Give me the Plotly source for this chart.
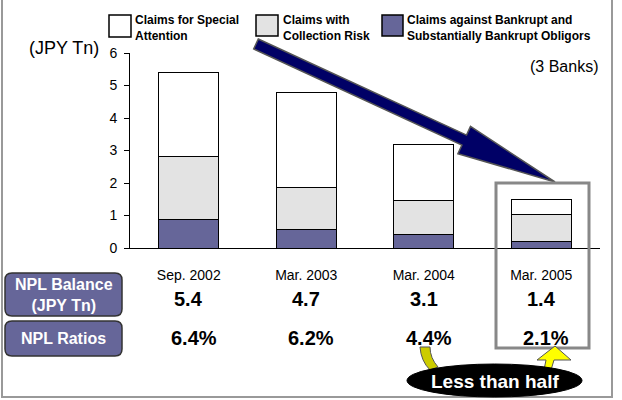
import numpy as np
import plotly.graph_objects as go

# ---------------- data ----------------
categories = ["Sep. 2002", "Mar. 2003", "Mar. 2004", "Mar. 2005"]
bankrupt = [0.89, 0.58, 0.43, 0.19]          # Claims against Bankrupt and Substantially Bankrupt Obligors
collection_risk = [1.94, 1.28, 1.02, 0.85]   # Claims with Collection Risk
special_attention = [2.58, 2.92, 1.75, 0.45] # Claims for Special Attention
npl_balance = [5.4, 4.7, 3.1, 1.4]
npl_ratio = [6.4, 6.2, 4.4, 2.1]
y_ticks = [0, 1, 2, 3, 4, 5, 6]

FONT = "Liberation Sans, Arial, sans-serif"
PURPLE = "#666699"
LGRAY = "#E3E3E3"

W, H = 622, 400
L, R, T, B = 130, 22, 53, 152
PW, PH = W - L - R, H - T - B


def px(x):
    return (x - L) / PW


def py(y):
    return (H - B - y) / PH


def path(points, close=True):
    s = "M " + " L ".join(f"{px(x):.5f},{py(y):.5f}" for x, y in points)
    return s + (" Z" if close else "")


fig = go.Figure()
for name, vals, col in [
    ("Claims against Bankrupt and Substantially Bankrupt Obligors", bankrupt, PURPLE),
    ("Claims with Collection Risk", collection_risk, LGRAY),
    ("Claims for Special Attention", special_attention, "#FFFFFF"),
]:
    fig.add_trace(go.Bar(x=categories, y=vals, name=name, marker=dict(color=col, line=dict(color="black", width=1)),
                         showlegend=False, hoverinfo="skip"))

shapes = []
annotations = []

# outer frame
shapes.append(dict(type="path", xref="paper", yref="paper",
                   path=path([(2, -5), (2, 397), (612, 397), (612, -5)], close=False),
                   line=dict(color="#999999", width=2)))

# legend
legend_items = [
    ((109, 15, 131, 37), "#FFFFFF", "Claims for Special<br>Attention", 133),
    ((256, 15, 278, 36), LGRAY, "Claims with<br>Collection Risk", 281),
    ((382, 15, 403, 36), PURPLE, "Claims against Bankrupt and<br>Substantially Bankrupt Obligors", 405),
]
for (x0, y0, x1, y1), col, txt, tx in legend_items:
    shapes.append(dict(type="rect", xref="paper", yref="paper", x0=px(x0), x1=px(x1), y0=py(y1), y1=py(y0),
                       fillcolor=col, line=dict(color="black", width=1.5)))
    annotations.append(dict(xref="paper", yref="paper", x=px(tx), y=py(27.5), xanchor="left", yanchor="middle",
                            text=f"<b>{txt}</b>", showarrow=False, align="left",
                            font=dict(family=FONT, size=12, color="black")))

# big navy arrow
Tt = np.array([256.0, 44.0])
Tip = np.array([555.0, 182.0])
u = (Tip - Tt) / np.linalg.norm(Tip - Tt)
n = np.array([-u[1], u[0]])
Bc = Tip - 100 * u
sw, hw = 5.5, 15
pts = [Tt - sw * n, Bc - sw * n, Bc - hw * n, Tip, Bc + hw * n, Bc + sw * n, Tt + sw * n]
shapes.append(dict(type="path", xref="paper", yref="paper", path=path([tuple(p) for p in pts]),
                   fillcolor="#000066", line=dict(color="#555555", width=1.5)))

# highlight box
shapes.append(dict(type="rect", xref="paper", yref="paper", x0=px(496), x1=px(589), y0=py(348), y1=py(183),
                   line=dict(color="#888888", width=3), fillcolor="rgba(0,0,0,0)"))


def rounded(x0, y0, x1, y1, r):
    return ("M {a},{b} L {c},{b} Q {x1},{b} {x1},{d} L {x1},{e} Q {x1},{f} {c},{f} L {a},{f} "
            "Q {x0},{f} {x0},{e} L {x0},{d} Q {x0},{b} {a},{b} Z").format(
        a=f"{px(x0 + r):.5f}", b=f"{py(y0):.5f}", c=f"{px(x1 - r):.5f}", d=f"{py(y0 + r):.5f}",
        e=f"{py(y1 - r):.5f}", f=f"{py(y1):.5f}", x0=f"{px(x0):.5f}", x1=f"{px(x1):.5f}")


# row header boxes
for (x0, y0, x1, y1), txt, yc in [((5, 273, 122, 316), "NPL Balance<br>(JPY Tn)", 295),
                                  ((5, 321, 122, 356), "NPL Ratios", 338.5)]:
    shapes.append(dict(type="path", xref="paper", yref="paper", path=rounded(x0, y0, x1, y1, 7),
                       fillcolor=PURPLE, line=dict(color="#333333", width=1.5)))
    annotations.append(dict(xref="paper", yref="paper", x=px(63.5), y=py(yc), xanchor="center", yanchor="middle",
                            text=f"<b>{txt}</b>", showarrow=False,
                            font=dict(family=FONT, size=16, color="white")))

# table values
for c, bal, rat in zip(categories, npl_balance, npl_ratio):
    annotations.append(dict(xref="x", yref="paper", x=c, y=py(299), xanchor="center", yanchor="middle",
                            text=f"<b>{bal:.1f}</b>", showarrow=False,
                            font=dict(family=FONT, size=20, color="black")))
    annotations.append(dict(xref="x", yref="paper", x=c, y=py(338), xanchor="center", yanchor="middle",
                            xshift=5, text=f"<b>{rat:.1f}%</b>", showarrow=False,
                            font=dict(family=FONT, size=20, color="black")))

# yellow pointers
shapes.append(dict(type="path", xref="paper", yref="paper",
                   path=(f"M {px(420):.5f},{py(347):.5f} Q {px(421):.5f},{py(361):.5f} {px(430):.5f},{py(370):.5f} "
                         f"L {px(438):.5f},{py(367):.5f} Q {px(430):.5f},{py(358):.5f} {px(430):.5f},{py(347):.5f} Z"),
                   fillcolor="#CCCC00", line=dict(color="#555555", width=1)))
shapes.append(dict(type="path", xref="paper", yref="paper",
                   path=path([(555, 346), (571, 360), (554, 360), (551, 370), (544, 370), (546, 360), (537, 360)]),
                   fillcolor="#FFFF00", line=dict(color="#555555", width=1)))

# ellipse callout
shapes.append(dict(type="circle", xref="paper", yref="paper", x0=px(407), x1=px(582), y0=py(397), y1=py(364),
                   fillcolor="black", line=dict(color="black", width=1)))
annotations.append(dict(xref="paper", yref="paper", x=px(494.5), y=py(381), xanchor="center", yanchor="middle",
                        text="<b>Less than half</b>", showarrow=False,
                        font=dict(family=FONT, size=19, color="white")))

# axis texts
annotations.append(dict(xref="paper", yref="paper", x=px(101), y=py(48), xanchor="right", yanchor="middle",
                        text="(JPY Tn)", showarrow=False, font=dict(family=FONT, size=18, color="black")))
annotations.append(dict(xref="paper", yref="paper", x=px(600), y=py(66), xanchor="right", yanchor="middle",
                        text="(3 Banks)", showarrow=False, font=dict(family=FONT, size=16, color="black")))

fig.update_layout(
    width=W, height=H, autosize=False,
    margin=dict(l=L, r=R, t=T, b=B, pad=0),
    paper_bgcolor="white", plot_bgcolor="white",
    barmode="stack", bargap=0.49,
    shapes=shapes, annotations=annotations,
    hovermode=False,
    font=dict(family=FONT, color="black"),
    xaxis=dict(type="category", range=[-0.5, 3.5], showline=True, linecolor="black", linewidth=1,
               ticks="", showgrid=False, zeroline=False, tickfont=dict(family=FONT, size=14, color="black"),
               ticklabelstandoff=14, fixedrange=True),
    yaxis=dict(range=[0, 6], tickvals=y_ticks, showline=True, linecolor="black", linewidth=1,
               ticks="outside", ticklen=5, tickcolor="black", showgrid=False, zeroline=False,
               tickfont=dict(family=FONT, size=14, color="black"), ticklabelstandoff=4, fixedrange=True),
)

fig.write_html("out.html")
